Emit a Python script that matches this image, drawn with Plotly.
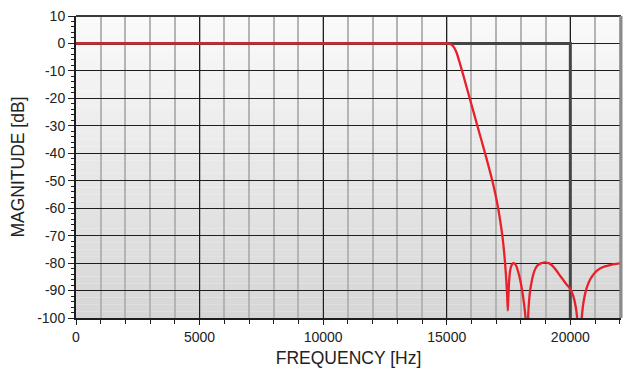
import plotly.graph_objects as go

# ---- data ----
ideal_freq = [0, 20000, 20000]
ideal_db = [0, 0, -100]

resp_freq = [0, 15000, 15100, 15200, 15300, 15400, 15500, 15620, 15775, 15930,
             16085, 16240, 16395, 16550, 16700, 16845, 16970, 17080, 17170, 17250,
             17310, 17360, 17400, 17440, 17470, 17490, 17520, 17560, 17620, 17690,
             17750, 17820, 17900, 17980, 18060, 18130, 18190, 18240, 18260, 18300,
             18360, 18440, 18540, 18660, 18800, 18920, 19030, 19150, 19280, 19420,
             19560, 19700, 19850, 20000, 20120, 20220, 20300, 20370, 20440, 20520,
             20650, 20800, 21000, 21200, 21400, 21600, 21850, 22050]
resp_db = [0, 0, -0.1, -0.5, -1.5, -3.4, -6.3, -10, -15, -20,
           -25, -30, -35, -40, -45, -50, -55, -60, -65, -70,
           -75, -80, -85, -91, -97.3, -93, -87, -83, -80.8, -80,
           -80.2, -81.2, -83.5, -86.5, -90.5, -95, -100, -108, -108, -98,
           -91, -86.5, -83, -81, -80.1, -79.8, -79.8, -80.1, -81, -82.5,
           -84.3, -86, -87.8, -89.4, -92, -96, -102, -110, -102, -95,
           -89.4, -86, -83.4, -82, -81.2, -80.7, -80.3, -80.1]

y_tickvals = [10, 0, -10, -20, -30, -40, -50, -60, -70, -80, -90, -100]
y_ticktext = ["10", "0", "-10", "-20", "-30", "-40", "-50", "-60", "-70", "-80", "-90", "-100"]
x_tickvals = [0, 5000, 10000, 15000, 20000]
x_ticktext = ["0", "5000", "10000", "15000", "20000"]

X_RANGE = [0, 22050]
Y_RANGE = [-100, 10]

fig = go.Figure()

fig.add_trace(go.Scatter(x=ideal_freq, y=ideal_db, mode="lines",
                         line=dict(color="#454545", width=3), hoverinfo="skip",
                         showlegend=False))
fig.add_trace(go.Scatter(x=resp_freq, y=resp_db, mode="lines",
                         line=dict(color="#e8202a", width=2.3, shape="spline", smoothing=0.5),
                         showlegend=False))

# background gradient bands (plot area)
shapes = []
n = 44
top_c = (250, 250, 250)
bot_c = (214, 214, 214)
for i in range(n):
    t = i / (n - 1)
    c = tuple(int(round(top_c[k] + (bot_c[k] - top_c[k]) * t)) for k in range(3))
    y1 = 1 - i / n
    y0 = 1 - (i + 1) / n
    shapes.append(dict(type="rect", xref="paper", yref="paper", x0=0, x1=1, y0=y0, y1=y1,
                       fillcolor="rgb(%d,%d,%d)" % c, line=dict(width=0), layer="below"))
# frame: top and right borders
shapes.append(dict(type="line", xref="paper", yref="paper", x0=0, x1=1, y0=1, y1=1,
                   line=dict(color="#3a3a3a", width=2), layer="above"))
shapes.append(dict(type="line", xref="paper", yref="paper", x0=1, x1=1, y0=0, y1=1,
                   line=dict(color="#8a8a8a", width=3), layer="above"))

font_family = "Liberation Sans, Arial, sans-serif"

fig.update_layout(
    width=625, height=369,
    margin=dict(l=76, r=4, t=16, b=51),
    paper_bgcolor="white",
    plot_bgcolor="rgba(0,0,0,0)",
    shapes=shapes,
    font=dict(family=font_family, size=14, color="#222"),
    xaxis=dict(
        range=X_RANGE, tickvals=x_tickvals, ticktext=x_ticktext,
        showgrid=True, gridcolor="#1e1e1e", gridwidth=1.3,
        ticks="outside", ticklen=5, tickwidth=1.3, tickcolor="#1e1e1e",
        showline=True, linecolor="#1e1e1e", linewidth=2,
        zeroline=False,
        tickfont=dict(size=14, color="#222"),
        title=dict(text="FREQUENCY [Hz]", font=dict(size=17.5, color="#222"), standoff=8),
        minor=dict(dtick=1000, tick0=0, showgrid=True, gridcolor="#b4b4b4", gridwidth=1.5,
                   ticks="outside", ticklen=4, tickcolor="#1e1e1e", tickwidth=1),
    ),
    yaxis=dict(
        range=Y_RANGE, tickvals=y_tickvals, ticktext=y_ticktext,
        showgrid=True, gridcolor="#1e1e1e", gridwidth=1.3,
        ticks="outside", ticklen=6, tickwidth=1.3, tickcolor="#1e1e1e",
        showline=True, linecolor="#1e1e1e", linewidth=2,
        zeroline=False,
        tickfont=dict(size=14, color="#222"),
        title=dict(text="MAGNITUDE [dB]", font=dict(size=17.5, color="#222"), standoff=8),
        minor=dict(dtick=2, tick0=0, showgrid=False,
                   ticks="outside", ticklen=3, tickcolor="#1e1e1e", tickwidth=1),
    ),
)

fig.write_html("out.html", config={"displayModeBar": False},
               post_script="document.body.style.margin='0';document.body.style.overflow='hidden';")
